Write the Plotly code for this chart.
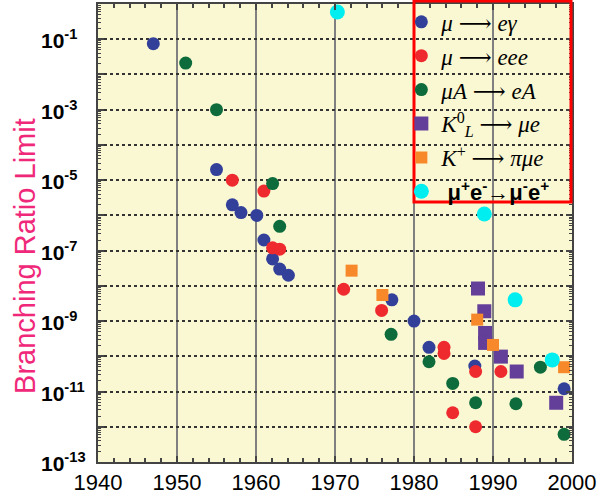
import plotly.graph_objects as go

# ---- data ----
meg_year = [1947, 1955, 1957, 1958.1, 1960.1, 1961, 1962.1, 1963, 1964.1, 1977.2, 1980, 1981.9, 1987.7, 1999]
meg_br = [7.5e-2, 2e-5, 2e-6, 1.2e-6, 1e-6, 2e-7, 5.8e-8, 3e-8, 2e-8, 4e-9, 1e-9, 1.8e-10, 5.3e-11, 1.2e-11]

meee_year = [1957, 1961, 1962.1, 1963, 1971.1, 1975.9, 1983.8, 1983.8, 1987.8, 1991, 1984.9, 1987.8]
meee_br = [1e-5, 4.9e-6, 1.2e-7, 1.1e-7, 8e-9, 2e-9, 1.8e-10, 1.2e-10, 3.7e-11, 3.7e-11, 2.5e-12, 1e-12]

conv_year = [1951.1, 1955, 1962.1, 1963, 1977.1, 1981.9, 1984.9, 1987.8, 1992.9, 1996, 1999]
conv_br = [2.1e-2, 1e-3, 8e-6, 4.9e-7, 4.2e-10, 7e-11, 1.7e-11, 4.8e-12, 4.5e-12, 4.9e-11, 6.1e-13]

kl_year = [1988.1, 1988.9, 1989, 1989, 1991, 1993, 1998]
kl_br = [8.4e-9, 1.9e-9, 4.6e-10, 2.4e-10, 9.8e-11, 3.7e-11, 4.8e-12]

kp_year = [1972.1, 1976, 1988, 1990, 1999]
kp_br = [2.7e-8, 5.5e-9, 1.1e-9, 2.1e-10, 4.9e-11]

mu_year = [1970.3, 1988.9, 1992.8, 1997.5]
mu_br = [0.59, 1.1e-6, 4e-9, 7.9e-11]

x_ticks = [1940, 1950, 1960, 1970, 1980, 1990, 2000]
y_label_exp = [-1, -3, -5, -7, -9, -11, -13]

SERIF = "Liberation Serif"
ARR = "\u00a0<span style='font-family:DejaVu Serif'>⟶</span>\u00a0"
series = [
    (meg_year, meg_br, f"<i>μ</i>{ARR}<i>eγ</i>", "#33409A", "circle", 13),
    (meee_year, meee_br, f"<i>μ</i>{ARR}<i>eee</i>", "#EE2A2F", "circle", 13),
    (conv_year, conv_br, f"<i>μA</i>{ARR}<i>eA</i>", "#0E6B3B", "circle", 13),
    (kl_year, kl_br, f"<i>K</i><sup>0</sup><sub><i>L</i></sub>{ARR}<i>μe</i>", "#633F99", "square", 14),
    (kp_year, kp_br, f"<i>K</i><sup>+</sup>{ARR}<i>πμe</i>", "#F7892A", "square", 12),
    (mu_year, mu_br,
     "<span style='font-family:Liberation Sans;font-size:22px'><b>\u00a0μ<sup>+</sup>e<sup>-</sup>→μ<sup>-</sup>e<sup>+</sup></b></span>",
     "#00EEF0", "circle", 15),
]

fig = go.Figure()
for i, (xs, ys, name, col, sym, sz) in enumerate(series):
    fig.add_trace(go.Scatter(
        x=xs, y=ys, mode="markers", name=name, legendgroup=f"g{i}",
        marker=dict(color=col, symbol=sym, size=sz, line=dict(width=0)),
    ))

W, H = 602, 499
L, R, T, B = 98, 30, 4, 37
PW, PH = W - L - R, H - T - B

fig.update_layout(
    width=W, height=H,
    margin=dict(l=L, r=R, t=T, b=B, autoexpand=False),
    paper_bgcolor="white",
    plot_bgcolor="#FAF8D2",
    showlegend=True,
    legend=dict(
        x=0.64, y=1.008, xanchor="left", yanchor="top",
        bgcolor="rgba(0,0,0,0)", borderwidth=0,
        font=dict(family=SERIF, size=23, color="black"),
        tracegroupgap=1, itemsizing="trace",
    ),
    xaxis=dict(
        range=[1940, 2000], tickvals=x_ticks, ticktext=[str(v) for v in x_ticks],
        ticks="inside", ticklen=6, tickwidth=2, tickcolor="#444",
        showline=True, linecolor="#444", linewidth=2, mirror="ticks",
        showgrid=True, gridcolor="#808080", gridwidth=2,
        zeroline=False,
        tickfont=dict(family="Liberation Sans", size=22, color="black"),
        minor=dict(dtick=2, ticks="inside", ticklen=4, tickwidth=2, tickcolor="#444", showgrid=False),
    ),
    yaxis=dict(
        type="log", range=[-13, 0], dtick=1,
        ticks="inside", ticklen=6, tickwidth=2, tickcolor="#444",
        showline=True, linecolor="#444", linewidth=2, mirror="ticks",
        showgrid=True, gridcolor="#333", gridwidth=2, griddash="dot",
        zeroline=False, showticklabels=False,
        minor=dict(ticks="inside", ticklen=3, tickwidth=1, tickcolor="#444", showgrid=False),
    ),
)

# y tick labels (left aligned, bold with superscripts)
for e in y_label_exp:
    fig.add_annotation(
        x=-(L - 39) / PW, xref="paper", xanchor="left",
        y=e, yref="y", yanchor="middle",
        text=f"<b>10<sup>{e}</sup></b>", showarrow=False,
        font=dict(family="Liberation Sans", size=21, color="black"),
    )

# y axis title
fig.add_annotation(
    x=-(L - 25) / PW, xref="paper", xanchor="center",
    y=0.45, yref="paper", yanchor="middle",
    text="Branching Ratio Limit", textangle=-90, showarrow=False,
    font=dict(family="Liberation Sans", size=29, color="#F0287A"),
)

# red legend frame
fig.add_shape(
    type="rect", xref="paper", yref="paper",
    x0=(414 - L) / PW, x1=(571 - L) / PW,
    y0=1 - (202 - T) / PH, y1=1 - (1 - T) / PH,
    line=dict(color="#FF0000", width=3), fillcolor="rgba(0,0,0,0)", layer="above",
)

fig.write_html("out.html", config={"displayModeBar": False},
               post_script="document.body.style.margin='0px';")
